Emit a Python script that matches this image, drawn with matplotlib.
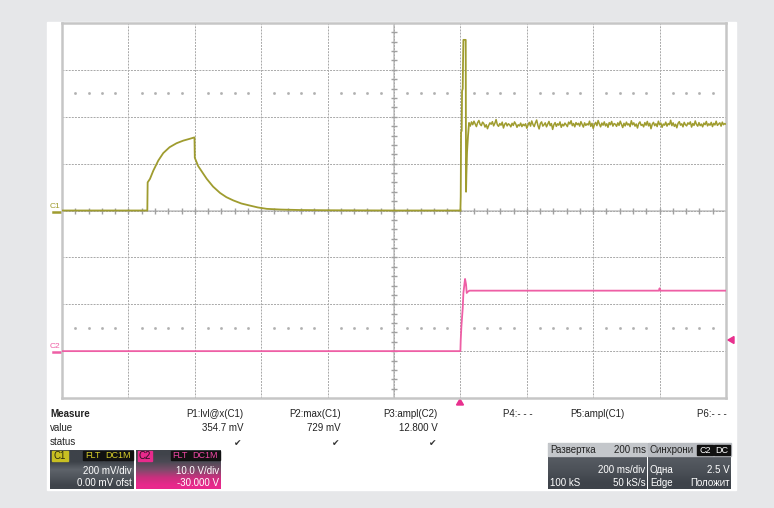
import numpy as np
import matplotlib.pyplot as plt
from matplotlib.patches import Rectangle, Polygon

plt.rcParams['font.family'] = ['Liberation Sans', 'DejaVu Sans']

# time in ms (trigger at 0), C1 in mV, C2 in V
c1_pulse_t = [-1200, -943, -942, -935, -925, -910, -895, -876, -855, -835, -815, -801,
              -800, -790, -775, -764, -745, -724, -705, -684, -660, -634, -610, -583,
              -540, -483, -400, -200, 0]
c1_pulse_v = [0, 0, 120, 135, 170, 213, 245, 270, 287, 298, 306, 312,
              225, 190, 158, 135, 102, 75, 57, 43, 30, 21, 13, 7,
              4, 2, 1, 0, 0]
c1_spike_t = [0, 1, 2, 4, 5, 7, 8, 9, 16, 17, 18, 20, 23, 26]
c1_spike_v = [0, 60, 335, 340, 510, 520, 640, 728, 728, 80, 150, 250, 320, 372]
c1_plateau = [372, 360, 378, 366, 381, 370, 358, 375, 384, 368, 362, 377, 371, 356, 366,
              349, 363, 374, 368, 379, 361, 372, 388, 366, 359, 371, 364, 377, 352, 368,
              374, 361, 370, 366, 357, 372, 363, 378, 369, 355, 366, 361, 373, 358, 368,
              362, 370, 351, 365, 376, 360, 382, 367, 358, 374, 386, 363, 348, 371, 378,
              360, 366, 374, 357, 369, 380, 362, 371, 346, 366, 375, 359, 370, 364, 378,
              355, 368, 361, 373, 366, 358, 377, 369, 383, 362, 371, 357, 375, 366, 372,
              360, 379, 368, 356, 374, 363, 370, 365, 381, 359, 372, 350, 367, 376, 362,
              384, 369, 357, 373, 364, 378, 361, 370, 355, 375, 366, 380, 360, 371, 368,
              359, 374, 363, 381, 367, 354, 372, 361, 377, 365, 370, 358, 383, 366, 374,
              360, 369, 352, 371, 378, 363, 367, 357, 375, 364, 380, 361, 372, 349, 368,
              376, 362, 370, 358, 381, 366, 373, 355, 369, 364, 377, 360, 371, 366, 385,
              362, 374, 359, 368, 353, 372, 379, 364, 370, 357, 376, 366, 361, 374, 368,
              378, 356, 371, 363, 382, 367, 360, 375, 362, 369, 357, 373, 366, 380, 361,
              370, 364, 376, 358, 372, 365, 381, 363, 369, 374, 360, 377, 366, 371, 368]
c2_t = [-1200, 0, 1, 3, 7, 9, 14, 17, 19, 21, 27, 598, 600, 602, 800]
c2_v = [0, 0, 2.4, 5.3, 9.2, 12.4, 15.4, 14.2, 12.4, 12.6, 12.9, 12.9, 13.4, 12.9, 12.9]

meas_names = ['P1:lvl@x(C1)', 'P2:max(C1)', 'P3:ampl(C2)', 'P4:- - -', 'P5:ampl(C1)', 'P6:- - -']
meas_values = ['354.7 mV', '729 mV', '12.800 V', '', '', '']
meas_status = [True, True, True, False, False, False]

C1 = '#9f9c2f'
C2 = '#ee5fa5'
GRID = '#a8a8a8'

fig = plt.figure(figsize=(7.74, 5.08), dpi=100, facecolor='#e6e7e9')

# overlay in pixel coords for the frame, labels and info boxes
ov = fig.add_axes([0, 0, 1, 1], zorder=0)
ov.set_xlim(0, 774)
ov.set_ylim(508, 0)
ov.axis('off')
ov.add_patch(Rectangle((47, 22), 689, 468, color='white', zorder=0))

# scope screen
ax = fig.add_axes([62 / 774, 110 / 508, 664 / 774, 375 / 508], zorder=1)
ax.set_xlim(-1200, 800)
ax.set_ylim(-800, 800)
ax.set_xticks(np.arange(-1000, 800, 200))
ax.set_yticks(np.arange(-600, 800, 200))
ax.tick_params(length=0, labelbottom=False, labelleft=False)
ax.grid(True, color=GRID, lw=0.7, ls=(0, (2, 1.2)))
for s in ax.spines.values():
    s.set_color('#c6c6c6')
    s.set_linewidth(1.8)

# centre cross with small ticks
ax.axhline(0, color='#cccccc', lw=1.3, zorder=1)
ax.axvline(-200, color='#cccccc', lw=1.3, zorder=1)
tx = np.arange(-1160, 800, 40)
ax.plot(tx, np.zeros_like(tx), ls='none', marker='|', ms=4, mew=1.0, color='#a0a0a0')
ty = np.arange(-760, 800, 40)
ax.plot(np.full_like(ty, -200), ty, ls='none', marker='_', ms=4, mew=1.0, color='#a0a0a0')
dots = tx[tx % 200 != 0]
for yy in (500, -500):
    ax.plot(dots, np.full(len(dots), yy), ls='none', marker='s', ms=0.9, color='#b0b0b0')

# C1 trace
ax.plot(c1_pulse_t, c1_pulse_v, color=C1, lw=1.3, zorder=3)
ax.plot(c1_spike_t, c1_spike_v, color=C1, lw=1.3, zorder=3)
pt = np.linspace(26, 800, len(c1_plateau))
ax.plot(np.r_[26, pt], np.r_[372, c1_plateau], color=C1, lw=1.1, zorder=3)

# C2 trace
ax2 = ax.twinx()
ax2.set_ylim(-10, 70)
ax2.axis('off')
ax2.plot(c2_t, c2_v, color=C2, lw=1.3, zorder=3)

# channel markers left
ov.text(50, 208, 'C1', color=C1, fontsize=6, va='baseline')
ov.plot([53, 62], [212, 212], color=C1, lw=1.8)
ov.text(50, 348, 'C2', color=C2, fontsize=6, va='baseline')
ov.plot([53, 62], [352, 352], color=C2, lw=1.8)
# trigger markers
ov.add_patch(Polygon([[456.5, 405], [463.5, 405], [460, 399]], color='#e8308e'))
ov.add_patch(Polygon([[728, 340], [734, 336.5], [734, 343.5]], color='#e8308e'))
ov.plot([724, 729], [340, 340], color='#e8308e', lw=1.2)

# measurement table
ov.text(50, 417, 'Measure', fontsize=7, fontweight='bold', color='#222', va='baseline')
ov.text(50, 431, 'value', fontsize=7, color='#222', va='baseline')
ov.text(50, 445, 'status', fontsize=7, color='#222', va='baseline')
col_right = [243, 341, 438]
col_left = [378, 503, 570, 697]
for i, name in enumerate(meas_names):
    if i < 3:
        ov.text(col_right[i], 417, name, fontsize=7, color='#222', ha='right', va='baseline')
        ov.text(col_right[i], 431, meas_values[i], fontsize=7, color='#222', ha='right', va='baseline')
        if meas_status[i]:
            ov.text(col_right[i] - 2, 446, '\u2714', fontsize=6.5, color='#333', ha='right',
                    va='baseline', family='DejaVu Sans')
    else:
        ov.text(col_left[i - 2], 417, name, fontsize=7, color='#222', va='baseline')


def gradient(x0, x1, y0, y1, colors):
    rgb = np.array([[int(c[k:k + 2], 16) / 255 for k in (1, 3, 5)] for c in colors])
    ov.imshow(rgb[:, None, :], extent=(x0, x1, y1, y0), aspect='auto',
              interpolation='bilinear', zorder=1)


def tag(x0, x1, y0, y1, txt, bg, fg, size=6.5):
    ov.add_patch(Rectangle((x0, y0), x1 - x0, y1 - y0, color=bg, zorder=2))
    ov.text((x0 + x1) / 2, y1 - 1.8, txt, fontsize=size, color=fg, ha='center',
            va='baseline', zorder=3)


# channel boxes
gradient(50, 134, 450, 489, ['#3d4249', '#3d4249', '#5e636a', '#50555c', '#3f444b'])
tag(51.5, 67.5, 451, 461, 'C1', '#c8bf22', '#2a2a10', 7)
tag(83, 102.5, 451, 460, 'FLT', '#111111', '#d8cf2c')
tag(103.5, 133, 451, 460, 'DC1M', '#111111', '#d8cf2c')
ov.text(132, 474, '200 mV/div', fontsize=7, color='white', ha='right', va='baseline', zorder=3)
ov.text(132, 485.5, '0.00 mV ofst', fontsize=7, color='white', ha='right', va='baseline', zorder=3)

gradient(136, 221, 450, 489, ['#40434a', '#4b4a54', '#7a4d6a', '#c8307e', '#e8288c'])
tag(137.5, 152, 451, 461, 'C2', '#e82a8c', '#2a1020', 7)
tag(171, 189.5, 451, 460, 'FLT', '#111111', '#f048a6')
tag(190.5, 219.5, 451, 460, 'DC1M', '#111111', '#f048a6')
ov.text(219, 474, '10.0 V/div', fontsize=7, color='white', ha='right', va='baseline', zorder=3)
ov.text(219, 485.5, '-30.000 V', fontsize=7, color='white', ha='right', va='baseline', zorder=3)

# timebase and trigger boxes
gradient(548, 647, 443, 489, ['#4a4f56', '#555a61', '#4a4f56', '#3e434a'])
ov.add_patch(Rectangle((548, 443), 99, 12.5, color='#c4c7cb', zorder=2))
ov.text(550, 453, 'Развертка', fontsize=7, color='#222', va='baseline', zorder=3)
ov.text(645.5, 453, '200 ms', fontsize=7, color='#222', ha='right', va='baseline', zorder=3)
ov.text(645.5, 473, '200 ms/div', fontsize=7, color='white', ha='right', va='baseline', zorder=3)
ov.text(550, 485.5, '100 kS', fontsize=7, color='white', va='baseline', zorder=3)
ov.text(645.5, 485.5, '50 kS/s', fontsize=7, color='white', ha='right', va='baseline', zorder=3)

gradient(648, 731, 443, 489, ['#4a4f56', '#555a61', '#4a4f56', '#3e434a'])
ov.add_patch(Rectangle((648, 443), 83, 12.5, color='#b9bcc1', zorder=2))
ov.text(650, 453, 'Синхрони', fontsize=7, color='#222', va='baseline', zorder=3)
tag(697, 713, 444.5, 454.5, 'C2', '#111111', 'white')
tag(714, 730, 444.5, 454.5, 'DC', '#111111', 'white')
ov.text(650, 473, 'Одна', fontsize=7, color='white', va='baseline', zorder=3)
ov.text(729.5, 473, '2.5 V', fontsize=7, color='white', ha='right', va='baseline', zorder=3)
ov.text(650, 485.5, 'Edge', fontsize=7, color='white', va='baseline', zorder=3)
ov.text(729.5, 485.5, 'Положит', fontsize=7, color='white', ha='right', va='baseline', zorder=3)

ov.set_xlim(0, 774)
ov.set_ylim(508, 0)

fig.savefig('out.png', dpi=100, facecolor=fig.get_facecolor())
